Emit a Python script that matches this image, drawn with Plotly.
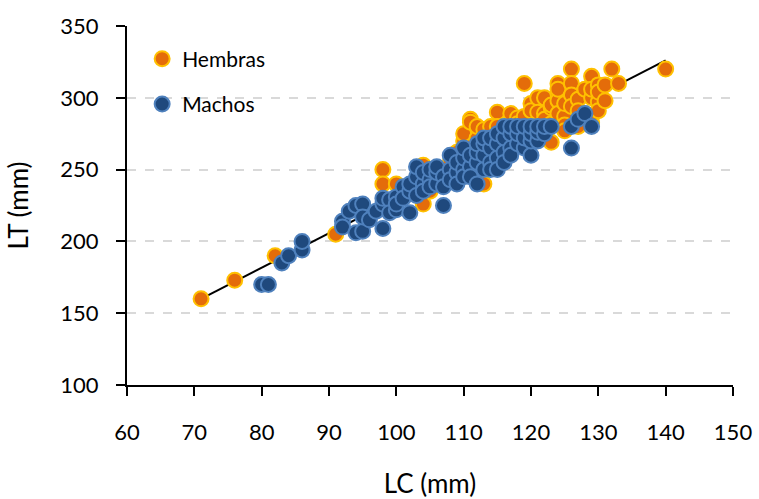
import plotly.graph_objects as go

# ---- data ----
hembras_lc = [71, 76, 82, 91, 98, 98, 100, 104, 104, 105, 106, 107, 108, 109, 110, 110,
              111, 111, 112, 112, 113, 113, 114, 115, 115, 116, 117, 118, 118, 119, 119,
              120, 120, 121, 121, 122, 122, 122, 123, 123, 123, 123, 124, 124, 124, 124,
              124, 125, 125, 125, 125, 126, 126, 126, 126, 127, 127, 127, 128, 128, 129,
              129, 129, 129, 129, 130, 130, 130, 130, 131, 131, 132, 133, 140,
              105, 108, 115, 118, 120]
hembras_lt = [160, 173, 190, 205, 250, 240, 240, 253, 226, 245, 248, 250, 255, 262, 270, 275,
              285, 283, 272, 280, 240, 278, 280, 290, 280, 275, 289, 286, 282, 310, 287,
              296, 291, 300, 290, 300, 289, 285, 282, 293, 269, 295, 310, 303, 298, 306,
              289, 287, 281, 296, 277, 320, 310, 302, 294, 299, 291, 280, 306, 289, 315,
              300, 306, 283, 288, 309, 297, 304, 291, 309, 298, 320, 310, 320,
              235, 245, 260, 270, 275]

machos_lc = [80, 81, 83, 84, 86, 86,
             92, 92, 93, 94, 94, 95, 95, 95, 96, 97, 98, 98, 98, 99, 99, 100, 100, 100,
             101, 101, 102, 102, 102, 103, 103, 103, 104, 104, 104, 105, 105, 105, 106,
             106, 106, 107, 107, 107, 108, 108, 108, 109, 109, 109, 110, 110, 110, 110,
             111, 111, 111, 112, 112, 112, 112, 113, 113, 113, 113, 114, 114, 114, 114,
             115, 115, 115, 115, 116, 116, 116, 116, 117, 117, 117, 117, 118, 118, 118,
             119, 119, 119, 120, 120, 120, 120, 121, 121, 121, 122, 122, 123,
             126, 126, 127, 128, 129]
machos_lt = [170, 170, 185, 190, 194, 200,
             214, 210, 221, 225, 206, 226, 207, 217, 215, 221, 226, 209, 230, 229, 220, 231, 222, 226,
             238, 230, 220, 235, 240, 245, 252, 232, 240, 248, 235, 243, 250, 238, 240,
             248, 252, 225, 245, 238, 250, 260, 243, 248, 255, 240, 250, 258, 265, 245,
             252, 260, 245, 240, 255, 262, 268, 250, 260, 268, 272, 255, 265, 272, 250,
             258, 268, 275, 250, 262, 272, 280, 255, 265, 275, 280, 260, 268, 275, 280,
             265, 272, 280, 260, 270, 275, 280, 270, 276, 280, 275, 280, 280,
             265, 280, 285, 289, 280]

trend_lc = [71, 140]
trend_lt = [160, 326]

x_ticks = [60, 70, 80, 90, 100, 110, 120, 130, 140, 150]
y_ticks = [100, 150, 200, 250, 300, 350]

FONT = "Lato"

fig = go.Figure()
fig.add_trace(go.Scatter(x=trend_lc, y=trend_lt, mode="lines",
                         line=dict(color="black", width=2), showlegend=False,
                         hoverinfo="skip"))
fig.add_trace(go.Scatter(x=hembras_lc, y=hembras_lt, mode="markers", name="Hembras",
                         legendgroup="h",
                         marker=dict(size=15, color="#E46C0A",
                                     line=dict(color="#FFC000", width=2))))
fig.add_trace(go.Scatter(x=machos_lc, y=machos_lt, mode="markers", name="Machos",
                         legendgroup="m",
                         marker=dict(size=15, color="#1F497D",
                                     line=dict(color="#4F81BD", width=2))))

fig.update_layout(
    width=759, height=499,
    margin=dict(l=127, r=26, t=26, b=114),
    paper_bgcolor="white", plot_bgcolor="white",
    font=dict(family=FONT, size=22, color="black"),
    legend=dict(x=0.025, y=0.965, xanchor="left", yanchor="top",
                bgcolor="rgba(0,0,0,0)", tracegroupgap=15,
                font=dict(size=21), traceorder="grouped"),
    xaxis=dict(range=[60, 150], tickvals=x_ticks, showgrid=False,
               showline=True, linecolor="black", linewidth=2,
               ticks="outside", ticklen=9, tickwidth=2, tickcolor="black",
               ticklabelstandoff=18, zeroline=False, automargin=False,
               title=dict(text="LC (mm)", standoff=36)),
    yaxis=dict(range=[100, 350], tickvals=y_ticks, showgrid=True,
               gridcolor="#D9D9D9", gridwidth=1.5, griddash="dash",
               showline=True, linecolor="black", linewidth=2,
               ticks="outside", ticklen=9, tickwidth=2, tickcolor="black",
               ticklabelstandoff=13, zeroline=False, automargin=False,
               title=dict(text="LT (mm)", standoff=24)),
)

fig.write_html("out.html")
